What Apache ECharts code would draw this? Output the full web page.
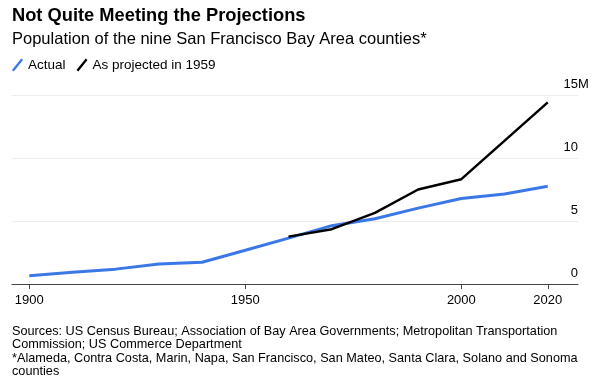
<!DOCTYPE html>
<html>
<head>
<meta charset="utf-8">
<script src="https://cdn.jsdelivr.net/npm/echarts@6/dist/echarts.min.js"></script>
<style>
html,body{margin:0;padding:0;background:#fff;}
#chart{width:600px;height:390px;}
</style>
</head>
<body>
<div id="chart"></div>
<script>
var titleText = 'Not Quite Meeting the Projections';
var subtitleText = 'Population of the nine San Francisco Bay Area counties*';
var footText = 'Sources: US Census Bureau; Association of Bay Area Governments; Metropolitan Transportation\nCommission; US Commerce Department\n*Alameda, Contra Costa, Marin, Napa, San Francisco, San Mateo, Santa Clara, Solano and Sonoma\ncounties';
var seriesNames = ['Actual', 'As projected in 1959'];
var actualYears = [1900, 1910, 1920, 1930, 1940, 1950, 1960, 1970, 1980, 1990, 2000, 2010, 2020];
var actualValues = [0.66, 0.93, 1.18, 1.58, 1.73, 2.68, 3.64, 4.63, 5.18, 6.02, 6.78, 7.15, 7.75];
var projYears = [1960, 1970, 1980, 1990, 2000, 2020];
var projValues = [3.76, 4.35, 5.64, 7.5, 8.32, 14.41];
var xTickYears = [1900, 1950, 2000, 2020];
var yTicks = [0, 5, 10, 15];

var FONT = '"Liberation Sans", Arial, sans-serif';
var chart = echarts.init(document.getElementById('chart'), null, {renderer: 'canvas'});
function pairs(xs, ys) { return xs.map(function (x, i) { return [x, ys[i]]; }); }

chart.setOption({
  animation: false,
  backgroundColor: '#fff',
  title: [
    {text: titleText, left: 12, top: 6, padding: 0, textStyle: {fontFamily: FONT, fontSize: 18.3, fontWeight: 'bold', color: '#000', lineHeight: 20}},
    {text: subtitleText, left: 12, top: 30, padding: 0, textStyle: {fontFamily: FONT, fontSize: 16.5, fontWeight: 'normal', color: '#000', lineHeight: 19}},
    {text: footText, left: 12, top: 325, padding: 0, textStyle: {fontFamily: FONT, fontSize: 12.7, fontWeight: 'normal', color: '#000', lineHeight: 13.3}}
  ],
  legend: {
    left: 7, top: 53, itemWidth: 11, itemHeight: 13, itemGap: 11,
    icon: 'path://M0,11.5 L9.2,0 L11,1.5 L1.8,13 Z',
    textStyle: {fontFamily: FONT, fontSize: 13.5, color: '#000'},
    data: seriesNames
  },
  grid: {left: 12, right: 22, top: 95, bottom: 106, containLabel: false},
  xAxis: {
    type: 'value', min: 1896, max: 2027,
    splitLine: {show: false},
    axisLine: {show: true, lineStyle: {color: '#444', width: 1}},
    axisTick: {show: true, length: 5, lineStyle: {color: '#444'}, customValues: xTickYears},
    axisLabel: {customValues: xTickYears, fontFamily: FONT, fontSize: 13, color: '#000', margin: 10,
      formatter: function (v) { return String(v); }}
  },
  yAxis: {
    type: 'value', position: 'right', min: 0, max: 15, interval: 5,
    axisLine: {show: false}, axisTick: {show: false},
    splitLine: {show: true, lineStyle: {color: '#ececec', width: 1}},
    axisLabel: {
      inside: true, margin: 0, verticalAlign: 'bottom', padding: [0, 0, 4, 0],
      fontFamily: FONT, fontSize: 13, color: '#000',
      formatter: function (v) { return v === 15 ? '{n|15}{m|M}' : '{n|' + v + '}'; },
      rich: {
        n: {fontFamily: FONT, fontSize: 13, color: '#000', align: 'left'},
        m: {fontFamily: FONT, fontSize: 13, color: '#000', align: 'left', width: 0}
      }
    }
  },
  series: [
    {name: seriesNames[0], type: 'line', data: pairs(actualYears, actualValues), showSymbol: false, symbol: 'none',
      color: '#3a78e8', lineStyle: {color: '#3a78e8', width: 3}, z: 2},
    {name: seriesNames[1], type: 'line', data: pairs(projYears, projValues), showSymbol: false, symbol: 'none',
      color: '#000', lineStyle: {color: '#000', width: 2.5}, z: 3}
  ]
});
</script>
</body>
</html>
